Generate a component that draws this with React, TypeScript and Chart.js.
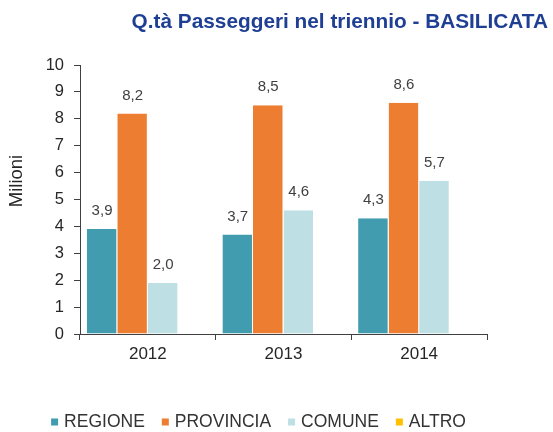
import React, { useEffect, useRef } from "react";
import { Chart, registerables } from "chart.js";

Chart.register(...registerables);

const years = ["2012", "2013", "2014"];
const regione = [3.9, 3.7, 4.3];
const provincia = [8.2, 8.5, 8.6];
const comune = [1.9, 4.6, 5.7];
const comuneLabels = ["2,0", "4,6", "5,7"];
const altro = [0, 0, 0];
const yTicks = [0, 1, 2, 3, 4, 5, 6, 7, 8, 9, 10];
const titleText = "Q.tà Passeggeri nel triennio - BASILICATA";
const yTitle = "Milioni";

const FONT = "'Liberation Sans', Arial, sans-serif";

const valueLabels = {
  id: "valueLabels",
  afterDatasetsDraw(chart: any) {
    const ctx = chart.ctx;
    ctx.save();
    ctx.font = `15px ${FONT}`;
    ctx.fillStyle = "#404040";
    ctx.textAlign = "center";
    ctx.textBaseline = "middle";
    chart.data.datasets.forEach((ds: any, di: number) => {
      const meta = chart.getDatasetMeta(di);
      meta.data.forEach((bar: any, i: number) => {
        const v = ds.data[i];
        if (!v) return;
        const txt = ds.labelsText ? ds.labelsText[i] : v.toFixed(1).replace(".", ",");
        ctx.fillText(txt, bar.x, bar.y - 18);
      });
    });
    ctx.restore();
  },
};

const texts = {
  id: "texts",
  afterDraw(chart: any) {
    const ctx = chart.ctx;
    ctx.save();
    ctx.font = `bold 20.8px ${FONT}`;
    ctx.fillStyle = "#1F3F94";
    ctx.textAlign = "right";
    ctx.textBaseline = "middle";
    ctx.fillText(titleText, chart.width - 5, 22);

    ctx.translate(17, 181);
    ctx.rotate(-Math.PI / 2);
    ctx.font = `18.5px ${FONT}`;
    ctx.fillStyle = "#262626";
    ctx.textAlign = "center";
    ctx.fillText(yTitle, 0, 0);
    ctx.restore();
  },
};

const bottomLegend = {
  id: "bottomLegend",
  afterDraw(chart: any) {
    const ctx = chart.ctx;
    ctx.save();
    ctx.font = `17.5px ${FONT}`;
    ctx.textBaseline = "middle";
    ctx.textAlign = "left";
    const box = 7;
    const gap = 6;
    const spacing = 17;
    const ds = chart.data.datasets;
    const widths = ds.map((d: any) => box + gap + ctx.measureText(d.label).width);
    const total = widths.reduce((a: number, b: number) => a + b, 0) + spacing * (ds.length - 1);
    let x = 258.5 - total / 2;
    const y = 422;
    ds.forEach((d: any, i: number) => {
      ctx.fillStyle = d.backgroundColor;
      ctx.fillRect(x, y - box / 2, box, box);
      ctx.fillStyle = "#333333";
      ctx.fillText(d.label, x + box + gap, y);
      x += widths[i] + spacing;
    });
    ctx.restore();
  },
};

export default function App() {
  const ref = useRef<HTMLCanvasElement>(null);
  useEffect(() => {
    const chart = new Chart(ref.current!, {
      type: "bar",
      data: {
        labels: years,
        datasets: [
          { label: "REGIONE", data: regione, backgroundColor: "#409CAE" },
          { label: "PROVINCIA", data: provincia, backgroundColor: "#ED7D31" },
          { label: "COMUNE", data: comune, backgroundColor: "#BEDFE4", labelsText: comuneLabels } as any,
          { label: "ALTRO", data: altro, backgroundColor: "#FFC000" },
        ].map((d: any) => ({
          ...d,
          borderColor: "#ffffff",
          borderWidth: { right: 1, left: 0, top: 0, bottom: 0 },
          borderSkipped: false,
          categoryPercentage: 0.9,
          barPercentage: 1,
        })),
      },
      options: {
        animation: false,
        responsive: false,
        maintainAspectRatio: false,
        layout: { padding: { left: 29, right: 66, top: 65, bottom: 43 } },
        plugins: {
          title: { display: false },
          legend: { display: false },
          tooltip: { enabled: false },
        },
        scales: {
          x: {
            grid: { drawOnChartArea: false, tickLength: 6, color: "#404040" },
            border: { display: true, color: "#404040" },
            ticks: { color: "#262626", font: { family: FONT, size: 17 }, padding: 4 },
            afterFit: (s: any) => {
              s.height = 55;
            },
          },
          y: {
            min: 0,
            max: 10,
            afterBuildTicks: (s: any) => {
              s.ticks = yTicks.map((v) => ({ value: v }));
            },
            afterFit: (s: any) => {
              s.width = 51;
            },
            grid: { drawOnChartArea: false, tickLength: 6, color: "#404040" },
            border: { display: true, color: "#404040" },
            ticks: { color: "#262626", font: { family: FONT, size: 16.5 }, padding: 10 },
          },
        },
      },
      plugins: [valueLabels, texts, bottomLegend],
    } as any);
    return () => chart.destroy();
  }, []);
  return (
    <div style={{ position: "fixed", left: 0, top: 0, width: 553, height: 432, background: "#fff" }}>
      <canvas ref={ref} width={553} height={432} />
    </div>
  );
}
